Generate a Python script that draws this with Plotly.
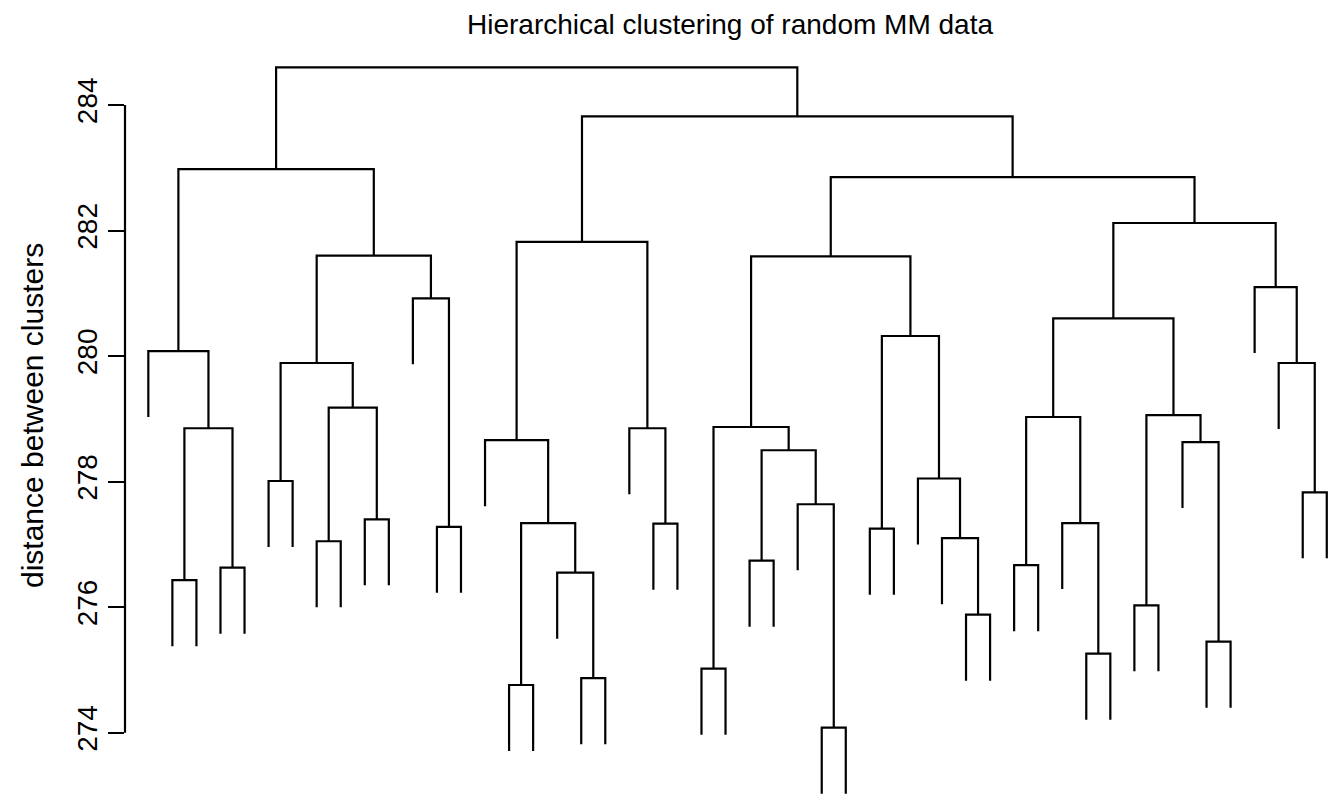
import plotly.graph_objects as go

# ---- data: hclust-style merge table (negative = leaf in display order, positive = merge id) ----
merge_left = [-2, -4, 1, -1, -6, -8, -10, 6, 5, -13, -12, 9, 4,
              -16, -19, -18, 14, -15, -22, -21, 18,
              -24, -26, -29, -28, 23, 22, -31, -35, -34, -33, 28, 27,
              -37, -40, -39, 34, -42, -45, -44, 38, 37, -49, -48, -47, 42,
              33, 21, 13]
merge_right = [-3, -5, 2, 3, -7, -9, -11, 7, 8, -14, 10, 11, 12,
               -17, -20, 15, 16, 17, -23, 19, 20,
               -25, -27, -30, 24, 25, 26, -32, -36, 29, 30, 31, 32,
               -38, -41, 35, 36, -43, -46, 39, 40, 41, -50, 43, 44, 45,
               46, 47, 48]
merge_height = [276.43, 276.63, 278.85, 280.08, 278.01, 277.05, 277.40, 279.18, 279.89,
                277.28, 280.92, 281.60, 282.98,
                274.76, 274.87, 276.55, 277.34, 278.66, 277.33, 278.85, 281.82,
                275.02, 276.74, 274.08, 277.64, 278.50, 278.87, 277.25, 275.88, 277.10,
                278.05, 280.32, 281.59,
                276.67, 275.26, 277.34, 279.03, 276.03, 275.45, 278.63, 279.06, 280.60,
                277.83, 279.89, 281.10, 282.12,
                282.85, 283.82, 284.60]
n_leaves = 50
y_ticks = [274, 276, 278, 280, 282, 284]
title_text = "Hierarchical clustering of random MM data"
y_label = "distance between clusters"

# ---- build dendrogram segments ----
hang = 0.1 * (max(merge_height) - min(merge_height))
node_x = {}
xs, ys = [], []
for i, (a, b, h) in enumerate(zip(merge_left, merge_right, merge_height), start=1):
    def child(c):
        if c < 0:
            return float(-c), h - hang
        return node_x[c], merge_height[c - 1]
    xa, ya = child(a)
    xb, yb = child(b)
    node_x[i] = (xa + xb) / 2.0
    xs += [xa, xa, xb, xb, None]
    ys += [ya, h, h, yb, None]

FONT = "Liberation Sans, Arial, sans-serif"
W, H = 1331, 796          # page body has an 8px margin
ML, MR, MT, MB = 117, 5, 52, 4
PW, PH = W - ML - MR, H - MT - MB

fig = go.Figure()
fig.add_trace(go.Scatter(x=xs, y=ys, mode="lines",
                         line=dict(color="black", width=2.2),
                         hoverinfo="skip", showlegend=False))

# y-axis line spanning only the tick range (R style)
fig.add_shape(type="line", xref="paper", yref="y", x0=0, x1=0,
              y0=min(y_ticks), y1=max(y_ticks),
              line=dict(color="black", width=2.2))

fig.add_annotation(text=y_label, xref="paper", yref="paper",
                   x=-(125 - 32) / PW, y=(800 - 416) / PH,
                   xanchor="center", yanchor="middle", textangle=-90,
                   showarrow=False,
                   font=dict(family=FONT, size=30, color="black"))

fig.update_layout(
    width=W, height=H,
    margin=dict(l=ML, r=MR, t=MT, b=MB),
    paper_bgcolor="white", plot_bgcolor="white",
    title=dict(text=title_text, x=(730 - 8) / W, xanchor="center",
               y=1 - 16 / H, yanchor="middle",
               font=dict(family=FONT, size=28, color="black")),
    xaxis=dict(range=[0.03, 50.30], visible=False, fixedrange=True),
    yaxis=dict(range=[272.928, 284.717], tickvals=y_ticks,
               ticktext=[str(t) for t in y_ticks],
               ticks="outside", ticklen=16, tickwidth=2.2, tickcolor="black",
               tickangle=-90, showgrid=False, zeroline=False, showline=False,
               tickfont=dict(family=FONT, size=28, color="black"),
               fixedrange=True),
)

fig.write_html("out.html")
